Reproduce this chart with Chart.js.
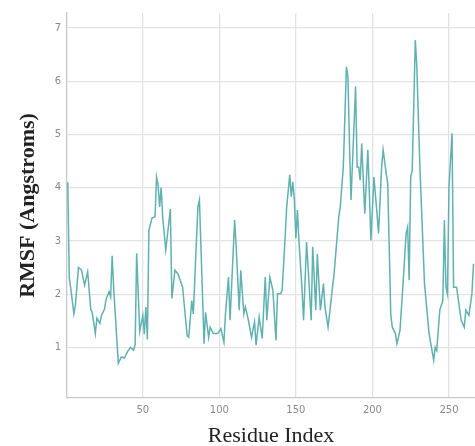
<!DOCTYPE html>
<html>
<head>
<meta charset="utf-8">
<script src="https://cdn.jsdelivr.net/npm/chart.js@4/dist/chart.umd.min.js"></script>
<style>
  html, body { margin: 0; padding: 0; background: #fff; }
  #wrap { width: 475px; height: 446px; }
</style>
</head>
<body>
<div id="wrap"><canvas id="myChart" width="475" height="446"></canvas></div>
<script>
// residue numbers and RMSF values
const residues = [1, 2, 3, 5, 6, 8, 10, 12, 14, 16, 17, 19, 20, 22, 23, 25, 26, 28, 29, 30,
  31, 34, 36, 38, 40, 42, 44, 45, 46, 48, 50, 51, 52, 53, 54, 56, 58, 59, 60, 61,
  62, 63, 65, 68, 69, 71, 73, 76, 79, 80, 82, 83, 86, 87, 89, 90, 91, 93, 94, 96,
  99, 101, 103, 104, 106, 107, 110, 111, 113, 114, 116, 117, 119, 121, 123, 124, 126, 128, 130, 131,
  133, 135, 137, 138, 140, 141, 143, 144, 146, 147, 148, 149, 150, 151, 152, 154, 155, 157, 160, 161,
  163, 164, 166, 168, 169, 171, 172, 175, 178, 179, 181, 183, 184, 185, 186, 189, 190, 191, 192, 193,
  195, 197, 198, 199, 201, 203, 204, 206, 207, 209, 210, 212, 213, 215, 216, 218, 220, 222, 223, 224,
  225, 226, 228, 229, 231, 234, 237, 240, 241, 242, 244, 246, 247, 248, 249, 250, 252, 253, 255, 257,
  258, 260, 261, 263, 265, 266];
const rmsf = [4.1, 2.3, 2.1, 1.63, 1.8, 2.5, 2.45, 2.17, 2.42, 1.72, 1.65, 1.26, 1.55, 1.45, 1.6, 1.72, 1.9, 2.05, 1.95, 2.72,
  2.1, 0.7, 0.82, 0.8, 0.92, 1.0, 0.95, 1.05, 2.77, 1.3, 1.6, 1.25, 1.76, 1.15, 3.2, 3.43, 3.45, 4.2, 4.05, 3.64,
  4.0, 3.45, 2.83, 3.6, 1.92, 2.45, 2.38, 2.13, 1.22, 1.19, 1.88, 1.63, 3.64, 3.77, 2.0, 1.07, 1.66, 1.19, 1.38, 1.26,
  1.26, 1.35, 1.1, 1.63, 2.32, 1.51, 3.39, 2.89, 1.7, 2.45, 1.63, 1.76, 1.51, 1.19, 1.48, 1.04, 1.57, 1.17, 2.32, 1.51,
  2.32, 2.07, 1.13, 2.01, 2.01, 2.07, 3.08, 3.64, 4.24, 3.83, 4.11, 3.77, 3.05, 3.58, 3.0, 2.1, 1.51, 2.98, 1.51, 2.89,
  1.7, 2.76, 1.7, 2.2, 1.76, 1.38, 1.63, 2.4, 3.45, 3.64, 4.4, 6.27, 6.08, 4.83, 3.77, 5.9, 4.39, 4.39, 4.14, 4.83,
  3.51, 4.71, 3.89, 3.01, 4.2, 3.51, 3.14, 4.39, 4.71, 4.27, 4.08, 1.6, 1.38, 1.26, 1.07, 1.32, 2.2, 3.14, 3.26, 2.26,
  4.2, 4.33, 6.77, 6.27, 4.39, 2.2, 1.26, 0.76, 1.0, 0.94, 1.7, 1.88, 3.39, 2.13, 2.0, 4.01, 5.02, 2.13, 2.13, 1.7,
  1.51, 1.38, 1.7, 1.6, 2.01, 2.57];
const xTicks = [50, 100, 150, 200, 250];
const yTicks = [1, 2, 3, 4, 5, 6, 7];

var points = residues.map((r, i) => ({x: r, y: rmsf[i]}));

var ctx = document.getElementById("myChart");
var myChart = new Chart(ctx, {
    type: 'line',
    data: {
        datasets: [{
            data: points,
            borderColor: "#5fb2b0",
            borderWidth: 1.5,
            pointRadius: 0,
            fill: false,
            tension: 0
        }]
    },
    options: {
        responsive: false,
        animation: false,
        layout: { padding: { top: 13, right: 0, left: 0, bottom: 0 } },
        plugins: { legend: { display: false }, tooltip: { enabled: false } },
        scales: {
            x: {
                type: 'linear',
                min: 0.5,
                max: 267,
                afterFit: s => { s.height = 48; },
                afterBuildTicks: s => { s.ticks = xTicks.map(v => ({value: v})); },
                grid: { color: "#e3e3e3", lineWidth: 1.3, drawTicks: false },
                border: { color: "#c9c9c9", width: 1.3 },
                ticks: { color: "#8a8a8a", font: { family: "DejaVu Sans", size: 10 }, padding: 6 },
                title: {
                    display: true,
                    text: "Residue Index",
                    color: "#222",
                    font: { family: "Liberation Serif", size: 22, lineHeight: 1 },
                    padding: { top: 0, bottom: -1 }
                }
            },
            y: {
                min: 0.05,
                max: 7.28,
                afterFit: s => { s.width = 67; },
                afterBuildTicks: s => { s.ticks = yTicks.map(v => ({value: v})); },
                grid: { color: "#e3e3e3", lineWidth: 1.3, drawTicks: false },
                border: { color: "#c9c9c9", width: 1.3 },
                ticks: { color: "#8a8a8a", font: { family: "DejaVu Sans", size: 10 }, padding: 6 },
                title: {
                    display: true,
                    text: "RMSF (Angstroms)",
                    color: "#222",
                    font: { family: "Liberation Serif", size: 22, weight: "bold", lineHeight: 1 },
                    padding: { top: 17, bottom: 0 }
                }
            }
        }
    }
});
</script>
</body>
</html>
